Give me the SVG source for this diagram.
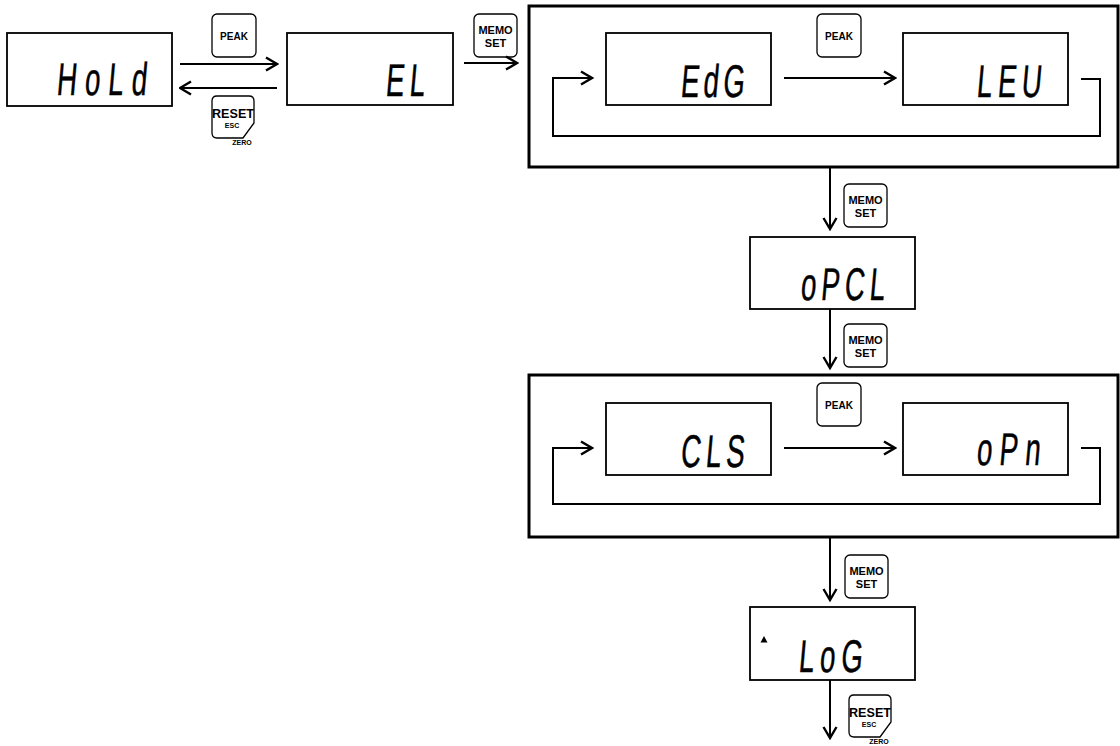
<svg xmlns="http://www.w3.org/2000/svg" width="1120" height="746" viewBox="0 0 1120 746">
<defs>
<style>
.bg{fill:#fff}
.disp{fill:#fff;stroke:#000;stroke-width:1.8}
.frame{fill:none;stroke:#000;stroke-width:3}
.btn{fill:#fff;stroke:#000;stroke-width:1.3}
.seg{font-family:"Liberation Sans",Arial,sans-serif;font-size:46px;fill:#000;stroke:#000;stroke-width:0.5}
.bl{font-family:"Liberation Sans",Arial,sans-serif;font-weight:bold;fill:#000;text-anchor:middle}
.ln{fill:none;stroke:#000;stroke-width:2}
</style>
<marker id="ah" viewBox="0 0 14 16" refX="12.5" refY="8" markerWidth="14" markerHeight="16" markerUnits="userSpaceOnUse" orient="auto">
<path d="M1.5,1.5 L12.5,8 L1.5,14.5" fill="none" stroke="#000" stroke-width="2.4"/>
</marker>
<g id="peakbtn">
<rect x="0" y="0" width="44" height="43" rx="5" class="btn"/>
<text x="22" y="25.5" class="bl" font-size="10">PEAK</text>
</g>
<g id="memobtn">
<rect x="0" y="0" width="43" height="43" rx="5" class="btn"/>
<text x="21.5" y="19.5" class="bl" font-size="11">MEMO</text>
<text x="21.5" y="32.5" class="bl" font-size="11">SET</text>
</g>
<g id="resetbtn">
<path d="M5,0 H37 Q42,0 42,5 V27 L31,42 H5 Q0,42 0,37 V5 Q0,0 5,0 Z" class="btn"/>
<text x="21" y="22" class="bl" font-size="13" textLength="42" lengthAdjust="spacingAndGlyphs">RESET</text>
<text x="20" y="31.5" class="bl" font-size="7">ESC</text>
<text x="30" y="49" class="bl" font-size="7">ZERO</text>
</g>
</defs>
<rect class="bg" x="0" y="0" width="1120" height="746"/>

<g id="frame1"><rect x="529" y="6" width="589" height="161" class="frame"/></g>
<g id="frame2"><rect x="529" y="375" width="589" height="162" class="frame"/></g>

<g id="hold">
<rect x="7" y="33" width="165" height="73" class="disp"/>
<text class="seg" transform="translate(56,95) skewX(-5) scale(0.6,1)" textLength="150" lengthAdjust="spacing">HoLd</text>
</g>
<g id="el">
<rect x="287" y="33" width="166" height="72" class="disp"/>
<text class="seg" transform="translate(385,96) skewX(-5) scale(0.6,1)" textLength="65" lengthAdjust="spacing">EL</text>
</g>
<g id="edg">
<rect x="606" y="33" width="165" height="72" class="disp"/>
<text class="seg" transform="translate(680,97) skewX(-5) scale(0.6,1)" textLength="106" lengthAdjust="spacing">EdG</text>
</g>
<g id="leu">
<rect x="903" y="33" width="165" height="72" class="disp"/>
<text class="seg" transform="translate(976,97) skewX(-5) scale(0.6,1)" textLength="108" lengthAdjust="spacing">LEU</text>
</g>
<g id="opcl">
<rect x="750" y="237" width="165" height="72" class="disp"/>
<text class="seg" transform="translate(800,300) skewX(-5) scale(0.6,1)" textLength="140" lengthAdjust="spacing">oPCL</text>
</g>
<g id="cls">
<rect x="606" y="403" width="165" height="72" class="disp"/>
<text class="seg" transform="translate(680,467) skewX(-5) scale(0.6,1)" textLength="106" lengthAdjust="spacing">CLS</text>
</g>
<g id="opn">
<rect x="903" y="403" width="165" height="72" class="disp"/>
<text class="seg" transform="translate(976,465) skewX(-5) scale(0.6,1)" textLength="106" lengthAdjust="spacing">oPn</text>
</g>
<g id="log">
<rect x="750" y="607" width="165" height="73" class="disp"/>
<path d="M760.5,642.5 L764,636 L767.5,642.5 Z" fill="#000"/>
<text class="seg" transform="translate(798,672) skewX(-5) scale(0.6,1)" textLength="106" lengthAdjust="spacing">LoG</text>
</g>

<g id="btn-peak1"><use href="#peakbtn" x="212" y="14"/></g>
<g id="btn-reset1"><use href="#resetbtn" x="212" y="96"/></g>
<g id="btn-memo1"><use href="#memobtn" x="474" y="14"/></g>
<g id="btn-peak2"><use href="#peakbtn" x="817" y="14"/></g>
<g id="btn-memo2"><use href="#memobtn" x="844" y="184"/></g>
<g id="btn-memo3"><use href="#memobtn" x="844" y="324"/></g>
<g id="btn-peak3"><use href="#peakbtn" x="817" y="383"/></g>
<g id="btn-memo4"><use href="#memobtn" x="845" y="555"/></g>
<g id="btn-reset2"><use href="#resetbtn" x="849" y="695"/></g>

<g id="connectors">
<line x1="180" y1="64" x2="277" y2="64" class="ln" marker-end="url(#ah)"/>
<line x1="277" y1="88" x2="180" y2="88" class="ln" marker-end="url(#ah)"/>
<line x1="464" y1="63" x2="517" y2="63" class="ln" marker-end="url(#ah)"/>
<line x1="784" y1="78" x2="895" y2="78" class="ln" marker-end="url(#ah)"/>
<path d="M1081,79 H1100 V136 H553 V78 H592" class="ln" marker-end="url(#ah)"/>
<line x1="830" y1="168" x2="830" y2="229" class="ln" marker-end="url(#ah)"/>
<line x1="830" y1="309" x2="830" y2="368" class="ln" marker-end="url(#ah)"/>
<line x1="784" y1="448" x2="895" y2="448" class="ln" marker-end="url(#ah)"/>
<path d="M1081,448 H1100 V504 H553 V448 H592" class="ln" marker-end="url(#ah)"/>
<line x1="830" y1="538" x2="830" y2="600" class="ln" marker-end="url(#ah)"/>
<line x1="830" y1="680" x2="830" y2="738" class="ln" marker-end="url(#ah)"/>
</g>
</svg>
